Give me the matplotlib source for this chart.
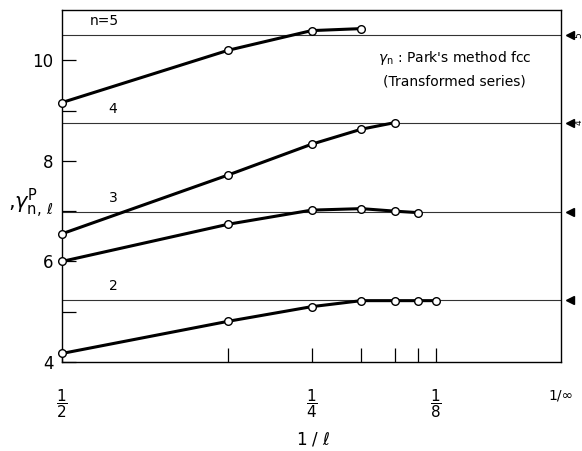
import matplotlib
matplotlib.use("Agg")
import matplotlib.pyplot as plt
import numpy as np

# data: gamma^P_{n,l} for l = 2..
ells = [2, 3, 4, 5, 6, 7, 8]
gamma_n5 = [9.16, 10.20, 10.59, 10.63]
gamma_n4 = [6.55, 7.72, 8.33, 8.63, 8.76]
gamma_n3 = [6.00, 6.74, 7.02, 7.05, 7.00, 6.97]
gamma_n2 = [4.17, 4.81, 5.10, 5.22, 5.22, 5.22, 5.22]
series = [gamma_n5, gamma_n4, gamma_n3, gamma_n2]

# limiting values (thin horizontal lines with arrows)
limits = [10.51, 8.76, 6.99, 5.24]
limit_names = ["n=5", "4", "3", "2"]
edge_labels = ["5", "4", "", ""]

xtick_labels = [r"$\dfrac{1}{2}$", "", r"$\dfrac{1}{4}$", "", "", "", r"$\dfrac{1}{8}$"]


def main():
    fig = plt.figure(figsize=(5.82, 4.51), dpi=100)
    ax = fig.add_axes([62 / 582, 1 - 362 / 451, (561 - 62) / 582, (362 - 10) / 451])

    ax.set_xlim(0.5, 0.0)
    ax.set_ylim(4, 11)

    # horizontal limit lines + arrows on the right
    for lim, name, el in zip(limits, limit_names, edge_labels):
        ax.axhline(lim, color="#333333", lw=0.8, zorder=1)
        ax.plot([-0.009], [lim], marker="<", color="black", markersize=6,
                clip_on=False, zorder=5)
        ax.text(0.458 if name.startswith("n") else 0.449, lim + 0.13, name,
                ha="center", va="bottom", fontsize=10)
        if el:
            ax.text(-0.0135, lim, el, rotation=90, ha="left", va="center",
                    fontsize=6.5, clip_on=False)

    for vals in series:
        x = [1.0 / l for l in ells[:len(vals)]]
        ax.plot(x, vals, color="black", lw=2.2, marker="o", markersize=5.5,
                markerfacecolor="white", markeredgecolor="black",
                markeredgewidth=1.0, clip_on=False, zorder=4)

    ax.text(0.183, 10.05, r"$\gamma_{\mathrm{n}}$ : Park's method fcc", fontsize=10,
            ha="left", va="center")
    ax.text(0.178, 9.57, "(Transformed series)", fontsize=10,
            ha="left", va="center")

    # ticks
    ax.set_xticks([1.0 / l for l in ells])
    ax.set_xticklabels(xtick_labels, fontsize=11)
    ax.tick_params(axis="x", direction="in", length=10, width=0.9, pad=18,
                   top=False)
    ax.set_yticks([4, 6, 8, 10])
    ax.set_yticks([5, 7, 9], minor=True)
    ax.tick_params(axis="y", which="both", direction="in", length=10,
                   width=0.9, labelsize=12, pad=6, right=False)
    for sp in ax.spines.values():
        sp.set_linewidth(1.0)

    ax.text(0.0, -0.075, "1/\u221e", transform=ax.get_xaxis_transform(),
            ha="center", va="top", fontsize=10)

    fig.text(313 / 582, 1 - 440 / 451, r"1 / $\ell$", ha="center",
             va="center", fontsize=12)
    fig.text(8 / 582, 1 - 203 / 451, r",$\gamma^{\mathrm{P}}_{\mathrm{n},\,\ell}$",
             ha="left", va="center", fontsize=15)

    fig.savefig("out.png", dpi=100, facecolor="white")


if __name__ == "__main__":
    main()
